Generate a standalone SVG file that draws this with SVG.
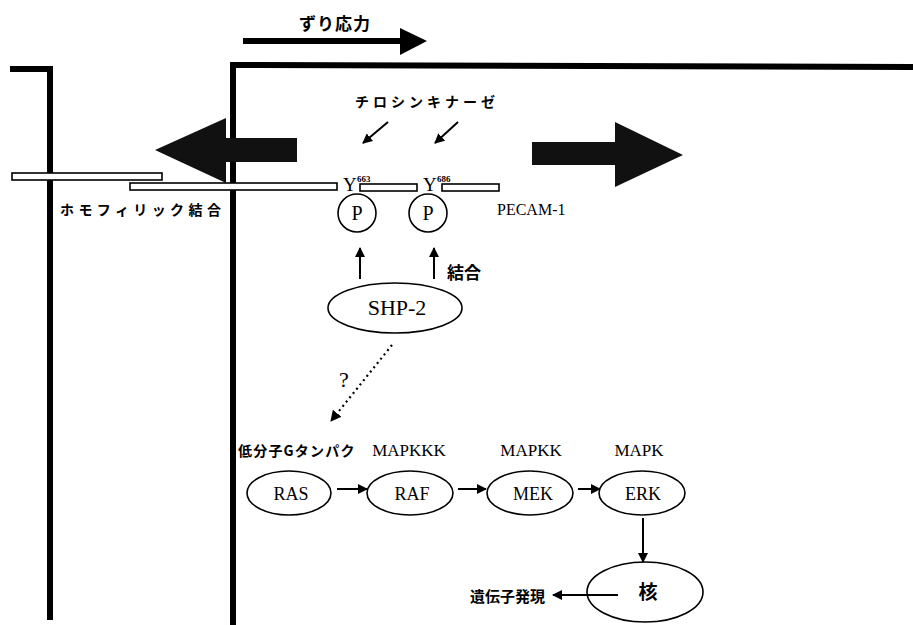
<svg xmlns="http://www.w3.org/2000/svg" width="913" height="625" viewBox="0 0 913 625">
<style>
.wall{fill:none;stroke:#000;stroke-width:6;stroke-linecap:square}
.bar{fill:#fff;stroke:#000;stroke-width:1.6}
.node{fill:#fff;stroke:#000;stroke-width:1.6}
.lat{font-family:"Liberation Serif","DejaVu Serif",serif;fill:#000}
.jp{font-family:"Noto Sans CJK JP","Noto Sans",sans-serif;font-weight:bold;fill:#000}
.ln{stroke:#000;stroke-width:2;fill:none}
.dot{stroke:#000;stroke-width:2.2;fill:none;stroke-dasharray:2 3.5}
</style>
<defs>
<marker id="ah" viewBox="0 0 10 10" refX="9" refY="5" markerWidth="5" markerHeight="5" orient="auto" markerUnits="strokeWidth">
<path d="M0,0 L10,5 L0,10 z" fill="#000"/>
</marker>
</defs>
<rect width="913" height="625" fill="#fff"/>

<g id="cells">
<polyline class="wall" points="13,69 50,69 50,617"/>
<polyline class="wall" points="233,624 233,65 910,67"/>
</g>

<g id="shear">
<rect x="243" y="38" width="158" height="6" fill="#000"/>
<polygon points="400,28 427,41 400,55" fill="#000"/>
<text class="jp" x="335" y="30" font-size="17" text-anchor="middle" letter-spacing="1">ずり応力</text>
</g>

<g id="force-left">
<polygon points="155,150 226,118 226,138 297,138 297,162 226,162 226,183" fill="#111"/>
</g>
<g id="force-right">
<polygon points="532,142 615,142 615,122 683,155 615,187 615,165 532,165" fill="#111"/>
</g>

<g id="pecam">
<rect class="bar" x="12" y="173" width="150" height="7"/>
<rect class="bar" x="130" y="183" width="207" height="7"/>
<rect class="bar" x="360" y="184" width="57" height="7"/>
<rect class="bar" x="442" y="184" width="57" height="7"/>
<text class="lat" x="343" y="191" font-size="19">Y</text>
<text class="lat" x="357" y="182" font-size="9" font-weight="bold" fill="#000">663</text>
<text class="lat" x="423" y="191" font-size="19">Y</text>
<text class="lat" x="437" y="182" font-size="9" font-weight="bold" fill="#000">686</text>
<text class="lat" x="497" y="215" font-size="16">PECAM-1</text>
<text class="jp" x="60" y="215" font-size="14" letter-spacing="4.4">ホモフィリック結合</text>
</g>

<g id="kinase">
<text class="jp" x="355" y="107" font-size="14" letter-spacing="4">チロシンキナーゼ</text>
</g>

<g id="p1"><circle class="node" cx="357" cy="213" r="19"/><text class="lat" x="357" y="220" font-size="20" text-anchor="middle">P</text></g>
<g id="p2"><circle class="node" cx="428" cy="213" r="19"/><text class="lat" x="428" y="220" font-size="20" text-anchor="middle">P</text></g>

<g id="shp2"><ellipse class="node" cx="395" cy="308" rx="67" ry="25"/><text class="lat" x="397" y="315" font-size="22" text-anchor="middle">SHP-2</text></g>

<g id="ras"><ellipse class="node" cx="289" cy="493" rx="42" ry="22"/><text class="lat" x="291" y="500" font-size="18" text-anchor="middle">RAS</text></g>
<g id="raf"><ellipse class="node" cx="410" cy="493" rx="43" ry="22"/><text class="lat" x="412" y="500" font-size="18" text-anchor="middle">RAF</text></g>
<g id="mek"><ellipse class="node" cx="530" cy="493" rx="43" ry="22"/><text class="lat" x="533" y="500" font-size="18" text-anchor="middle">MEK</text></g>
<g id="erk"><ellipse class="node" cx="642" cy="493" rx="43" ry="22"/><text class="lat" x="643" y="500" font-size="18" text-anchor="middle">ERK</text></g>
<g id="nucleus"><ellipse class="node" cx="645" cy="592" rx="58" ry="30"/><text class="jp" x="648" y="599" font-size="19" text-anchor="middle">核</text></g>

<g id="labels">
<text class="jp" x="238" y="456" font-size="14" letter-spacing="1.2">低分子Gタンパク</text>
<text class="lat" x="409" y="456" font-size="17" text-anchor="middle">MAPKKK</text>
<text class="lat" x="531" y="456" font-size="17" text-anchor="middle">MAPKK</text>
<text class="lat" x="639" y="456" font-size="17" text-anchor="middle">MAPK</text>
<text class="jp" x="470" y="602" font-size="15">遺伝子発現</text>
<text class="jp" x="447" y="279" font-size="17">結合</text>
<text class="lat" x="344" y="387" font-size="22" text-anchor="middle">?</text>
</g>

<g id="connectors">
<line class="ln" x1="388" y1="122" x2="363" y2="143" marker-end="url(#ah)"/>
<line class="ln" x1="458" y1="122" x2="435" y2="143" marker-end="url(#ah)"/>
<line class="ln" x1="360" y1="279" x2="360" y2="248" marker-end="url(#ah)"/>
<line class="ln" x1="434" y1="279" x2="434" y2="248" marker-end="url(#ah)"/>
<line class="dot" x1="392" y1="345" x2="331" y2="421" marker-end="url(#ah)"/>
<line class="ln" x1="337" y1="489" x2="367" y2="489" marker-end="url(#ah)"/>
<line class="ln" x1="458" y1="489" x2="486" y2="489" marker-end="url(#ah)"/>
<line class="ln" x1="578" y1="489" x2="600" y2="489" marker-end="url(#ah)"/>
<line class="ln" x1="643" y1="518" x2="643" y2="562" marker-end="url(#ah)"/>
<line class="ln" x1="618" y1="595" x2="553" y2="595" marker-end="url(#ah)"/>
</g>
</svg>
